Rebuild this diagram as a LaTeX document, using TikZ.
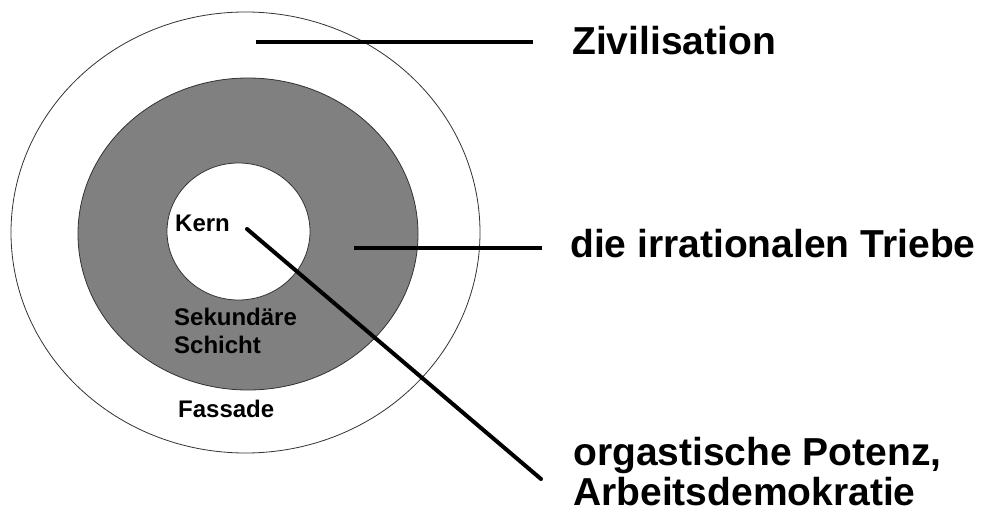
\documentclass[tikz,border=0pt]{standalone}
\usepackage{fontspec}
\setmainfont{Liberation Sans}
\begin{document}
\begin{tikzpicture}[x=1pt,y=-1pt, line join=round, line cap=butt,
    ring/.style={draw=black!80, line width=0.8pt},
    zeiger/.style={line width=4pt},
    gross/.style={font=\bfseries\fontsize{39}{40}\selectfont, anchor=base west, inner sep=0pt, align=left},
    klein/.style={font=\bfseries\fontsize{24}{28}\selectfont, anchor=base west, inner sep=0pt, align=left}]
    \useasboundingbox (0,0) rectangle (992,521);
    % die drei Schichten
    \draw[ring, fill=white] (245.5,232.5) ellipse [x radius=234.5pt, y radius=220.5pt];
    \draw[ring, fill=gray] (248,234) ellipse [x radius=170pt, y radius=156pt];
    \draw[ring, fill=white] (238.5,231.5) ellipse [x radius=71.5pt, y radius=68.5pt];
    \node[klein] (kern) at (175,232) {Kern};
    \node[klein] (sekundaer) at (174,353) {Sekund\"are\\Schicht};
    \node[klein] (fassade) at (178,417) {Fassade};
    % Beschriftungen rechts
    \node[gross] (zivilisation) at (572,55) {Zivilisation};
    \node[gross] (triebe) at (570,257) {die irrationalen Triebe};
    \node[gross] (potenz) at (573,505) {orgastische Potenz,\\Arbeitsdemokratie};
    \coordinate (zivanf) at (256,42);   \coordinate (zivend) at (533,42);
    \coordinate (triebanf) at (354,247.5); \coordinate (triebend) at (542,247.5);
    \coordinate (kernpkt) at (247,229); \coordinate (potend) at (541,479);
    \draw[zeiger] (zivanf) -- (zivend);
    \draw[zeiger] (triebanf) -- (triebend);
    \draw[zeiger, line cap=round] (kernpkt) -- (potend);
\end{tikzpicture}
\end{document}
